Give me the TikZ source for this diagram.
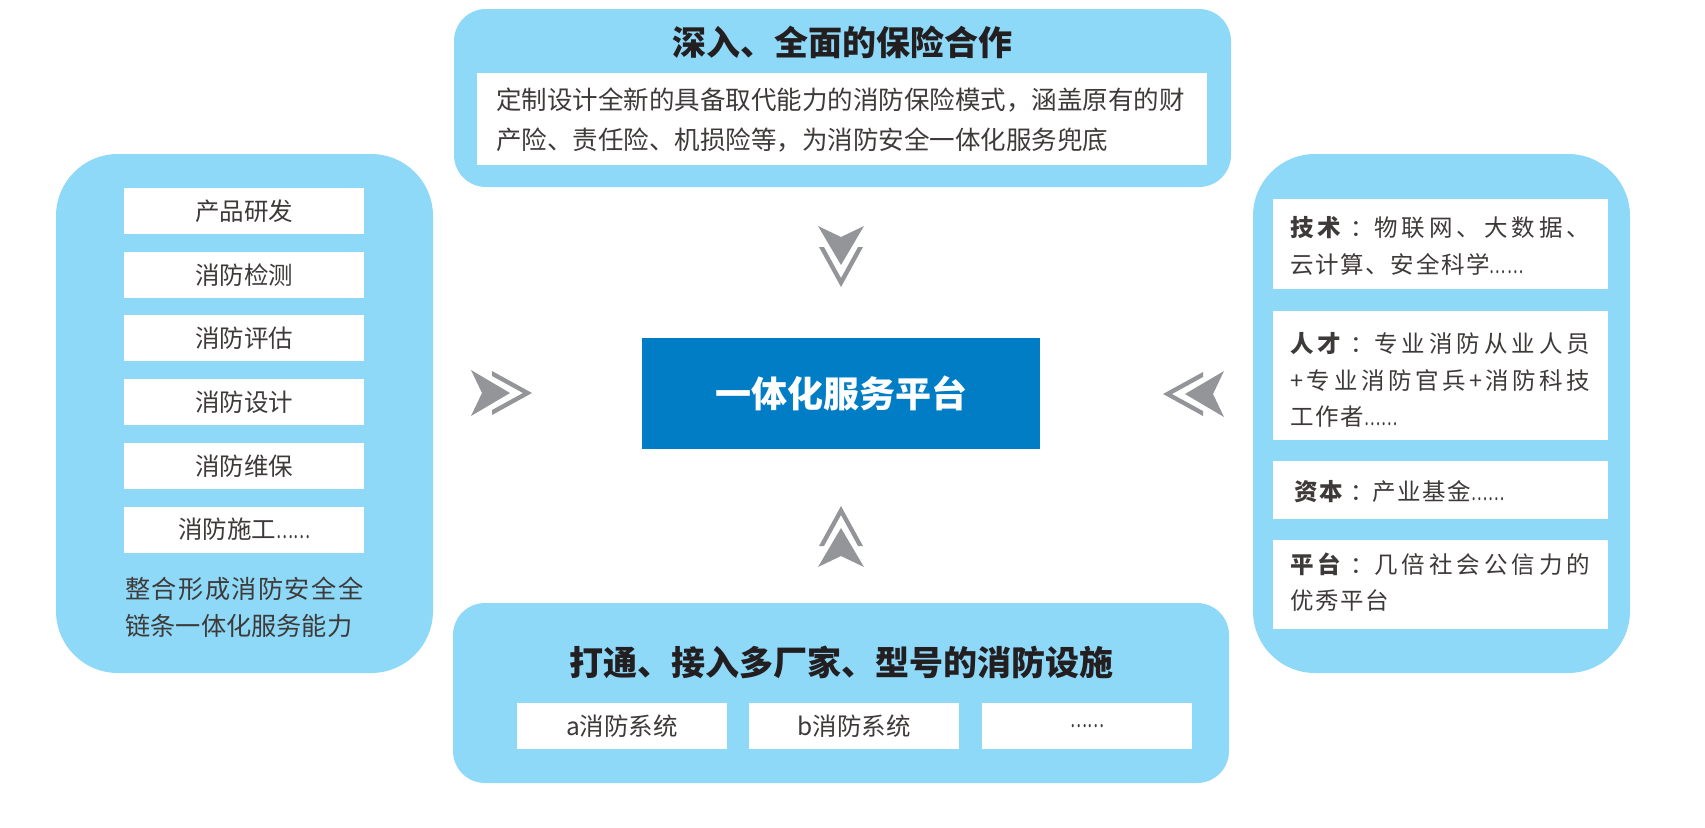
\documentclass[tikz,border=0pt]{standalone}
\usepackage{fontspec}
\setmainfont{Noto Sans CJK SC}
\newfontfamily\cjkspaced[LetterSpace=7]{Noto Sans CJK SC}
\usepackage{graphicx}
\usepackage{tikz}

\definecolor{boxblue}{HTML}{8ED8F8}
\definecolor{coreblue}{HTML}{007DC5}
\definecolor{chevgray}{HTML}{939598}
\definecolor{txtgray}{HTML}{3E3A39}
\definecolor{titleblack}{HTML}{231F20}

\makeatletter
\def\sprd#1{\sprd@a#1\@nil}
\def\sprd@a#1{#1\futurelet\sprd@next\sprd@b}
\def\sprd@b{\ifx\sprd@next\@nil\expandafter\@gobble\else\hfil\expandafter\sprd@a\fi}
\makeatother
\newcommand{\fullline}[1]{\makebox[150pt][s]{#1}}
\newcommand{\colonsep}{\kern0.15em：\kern-0.15em}
\newcommand{\moredots}{\scalebox{0.65}[1]{……}}

\begin{document}
\begin{tikzpicture}[x=0.5pt,y=-0.5pt,
	panel/.style={fill=boxblue,draw=none,inner sep=0pt},
	card/.style={fill=white,draw=none,inner sep=0pt,text=txtgray,font=\fontsize{12.25pt}{15pt}\selectfont},
	heading/.style={inner sep=0pt,text=titleblack,font=\fontsize{17pt}{20pt}\selectfont\bfseries},
	body/.style={inner sep=0pt,text=txtgray,align=left,font=\fontsize{12.75pt}{20pt}\selectfont},
	spec/.style={inner sep=0pt,text=txtgray,align=left,font=\cjkspaced\fontsize{11.75pt}{18.25pt}\selectfont},
	]
	
	\useasboundingbox (0,0) rectangle (1705,827);
	
	% top: insurance
	\node[panel,rounded corners=16pt,minimum width=388.5pt,minimum height=89pt] (insure) at (842.5,98) {};
	\node[heading] (insureT) at (842,42) {深入、全面的保险合作};
	\node[card,minimum width=365pt,minimum height=46pt] (insureC) at (842,119) {};
	\node[body,anchor=west] (insureX) at (496,120) {定制设计全新的具备取代能力的消防保险模式，涵盖原有的财\\产险、责任险、机损险等，为消防安全一体化服务兜底};
	
	% left: service chain
	\node[panel,rounded corners=31pt,minimum width=188.5pt,minimum height=259.5pt] (chain) at (244.5,413.5) {};
	\foreach \t [count=\i] in {产品研发,消防检测,消防评估,消防设计,消防维保,消防施工\moredots}
		\node[card,minimum width=120pt,minimum height=23pt] (chain\i) at (244,{211+63.7*(\i-1)}) {\t};
	\node[body,font=\fontsize{12.6pt}{18.5pt}\selectfont,anchor=west] (chainX) at (125,607.5) {\makebox[119pt][s]{\sprd{整合形成消防安全全}}\\链条一体化服务能力};
	
	% right: resources
	\node[panel,rounded corners=31pt,minimum width=188.5pt,minimum height=259.5pt] (res) at (1441.5,413.5) {};
	\node[card,minimum width=167.5pt,minimum height=45pt] (res1) at (1440.5,244) {};
	\node[card,minimum width=167.5pt,minimum height=64.5pt] (res2) at (1440.5,375.5) {};
	\node[card,minimum width=167.5pt,minimum height=29pt] (res3) at (1440.5,490) {};
	\node[card,minimum width=167.5pt,minimum height=44.5pt] (res4) at (1440.5,584.5) {};
	\node[spec,anchor=west] (res1X) at (1290,246) {\fullline{\textbf{\sprd{技术}}\hfil\colonsep\hfil\sprd{物联网、大数据、}}\\云计算、安全科学\moredots};
	\node[spec,anchor=west] (res2X) at (1290,380) {\fullline{\textbf{\sprd{人才}}\hfil\colonsep\hfil\sprd{专业消防从业人员}}\\\fullline{\sprd{+专业消防官兵+消防科技}}\\工作者\moredots};
	\node[spec,anchor=west] (res3X) at (1294,492) {\textbf{资\kern1pt 本}\kern1pt\colonsep\kern1pt 产业基金\moredots};
	\node[spec,anchor=west] (res4X) at (1290,582) {\fullline{\textbf{\sprd{平台}}\hfil\colonsep\hfil\sprd{几倍社会公信力的}}\\优秀平台};
	
	% centre
	\node[fill=coreblue,inner sep=0pt,minimum width=199pt,minimum height=55.5pt,text=white,font=\fontsize{18pt}{20pt}\selectfont\bfseries] (hub) at (841,393.5) {一体化服务平台};
	
	% bottom: devices
	\node[panel,rounded corners=16pt,minimum width=388pt,minimum height=90pt] (device) at (841,693) {};
	\node[heading] (deviceT) at (841,662) {打通、接入多厂家、型号的消防设施};
	\foreach \t/\x [count=\i] in {a消防系统/622,b消防系统/854,\moredots/1087}
		\node[card,minimum width=105pt,minimum height=23pt] (device\i) at (\x,726) {\t};
	
	% chevrons towards the hub
	\foreach \x/\y/\r in {471/393/0,1224/394/180,841/226/-90,841/567/90}
	{
		\begin{scope}[shift={(\x,\y)},rotate=\r]
			\fill[chevgray] (0,-23) -- (11,0) -- (0,23) -- (39,0) -- cycle;
			\fill[chevgray] (21,-22) -- (61,0) -- (21,22) -- (21,17) -- (52,0) -- (21,-17) -- cycle;
		\end{scope}
	}
	
\end{tikzpicture}
\end{document}
